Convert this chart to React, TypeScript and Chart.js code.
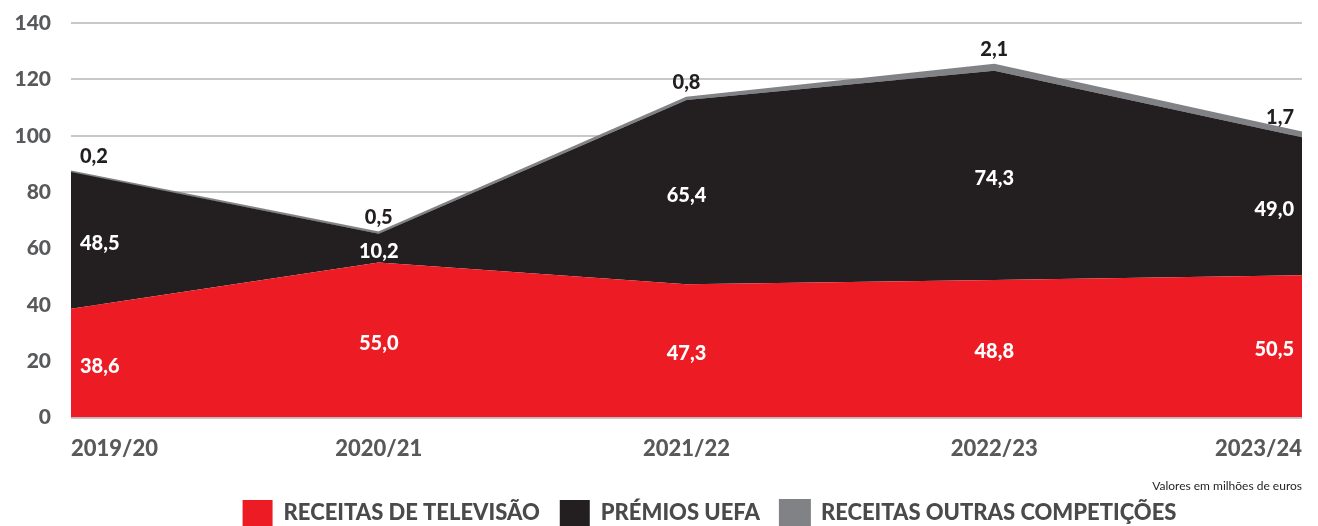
import React, { useEffect, useRef } from "react";
import { Chart, registerables } from "chart.js";

Chart.register(...registerables);

const seasons = ["2019/20", "2020/21", "2021/22", "2022/23", "2023/24"];
const tvRevenue = [38.6, 55.0, 47.3, 48.8, 50.5];
const uefaPrizes = [48.5, 10.2, 65.4, 74.3, 49.0];
const otherCompetitions = [0.2, 0.5, 0.8, 2.1, 1.7];
const seriesNames = ["RECEITAS DE TELEVISÃO", "PRÉMIOS UEFA", "RECEITAS OUTRAS COMPETIÇÕES"];
const yTicks = [0, 20, 40, 60, 80, 100, 120, 140];
const note = "Valores em milhões de euros";

const RED = "#ed1c24";
const BLACK = "#231f20";
const GREY = "#808285";
const TICK = "#58595b";
const FONT = "Lato, 'Open Sans', sans-serif";

const fmt = (v: number) => v.toFixed(1).replace(".", ",");

const valueLabels = {
  id: "valueLabels",
  afterDatasetsDraw(chart: any) {
    const ctx = chart.ctx;
    const yScale = chart.scales.y;
    const n = chart.data.labels.length;
    ctx.save();
    ctx.font = `900 20px ${FONT}`;
    ctx.textBaseline = "middle";
    chart.data.datasets.forEach((ds: any, di: number) => {
      const meta = chart.getDatasetMeta(di);
      const prev = di > 0 ? chart.getDatasetMeta(di - 1) : null;
      meta.data.forEach((pt: any, i: number) => {
        const topY = pt.y;
        const botY = prev ? prev.data[i].y : yScale.getPixelForValue(0);
        let x = pt.x;
        if (i === 0) {
          ctx.textAlign = "left";
          x += 9;
        } else if (i === n - 1) {
          ctx.textAlign = "right";
          x -= 8;
        } else {
          ctx.textAlign = "center";
        }
        let y: number;
        if (di === 2) {
          ctx.fillStyle = BLACK;
          y = topY - 15;
        } else {
          ctx.fillStyle = "#ffffff";
          y = (topY + botY) / 2 + 3;
        }
        ctx.fillText(fmt(ds.data[i]), x, y);
      });
    });
    ctx.restore();
  },
};

const legendShift = {
  id: "legendShift",
  afterLayout(chart: any) {
    if (chart.legend) {
      chart.legend.left += 23;
      chart.legend.right += 23;
    }
  },
};

export default function App() {
  const ref = useRef<HTMLCanvasElement | null>(null);
  useEffect(() => {
    if (!ref.current) return;
    const chart = new Chart(ref.current, {
      type: "line",
      data: {
        labels: seasons,
        datasets: [
          {
            label: seriesNames[0],
            data: tvRevenue,
            backgroundColor: RED,
            borderColor: RED,
            borderWidth: 0,
            fill: "origin",
            pointRadius: 0,
            tension: 0,
          },
          {
            label: seriesNames[1],
            data: uefaPrizes,
            backgroundColor: BLACK,
            borderColor: BLACK,
            borderWidth: 0,
            fill: "-1",
            pointRadius: 0,
            tension: 0,
          },
          {
            label: seriesNames[2],
            data: otherCompetitions,
            backgroundColor: GREY,
            borderColor: GREY,
            borderWidth: 2,
            fill: "-1",
            pointRadius: 0,
            tension: 0,
          },
        ],
      },
      options: {
        responsive: true,
        maintainAspectRatio: false,
        animation: false,
        layout: { padding: { left: 0, right: 16, top: 23, bottom: 0 } },
        scales: {
          x: {
            offset: false,
            grid: { display: false, drawTicks: false },
            border: { display: false },
            afterFit: (s: any) => {
              s.height = 47;
              s.paddingLeft = 0;
              s.paddingRight = 0;
              s.paddingTop = 0;
              s.paddingBottom = 0;
            },
            ticks: {
              align: "inner",
              padding: 18,
              color: TICK,
              font: { family: FONT, size: 22, weight: "900" },
              maxRotation: 0,
              autoSkip: false,
            },
          },
          y: {
            stacked: true,
            min: 0,
            max: 140,
            afterFit: (s: any) => {
              s.width = 71;
              s.paddingTop = 0;
              s.paddingBottom = 0;
              s.paddingLeft = 0;
              s.paddingRight = 0;
            },
            afterBuildTicks: (s: any) => {
              s.ticks = yTicks.map((v) => ({ value: v }));
            },
            border: { display: false },
            grid: { color: "#c7c8ca", lineWidth: 2, drawTicks: false },
            ticks: {
              padding: 20,
              color: TICK,
              font: { family: FONT, size: 21, weight: "900" },
            },
          },
        },
        plugins: {
          tooltip: { enabled: false },
          subtitle: {
            display: true,
            text: note,
            position: "bottom",
            align: "end",
            fullSize: false,
            weight: 500,
            color: BLACK,
            font: { family: FONT, size: 12, weight: "normal" },
            padding: { top: 14, bottom: -13 },
          },
          legend: {
            position: "bottom",
            fullSize: false,
            labels: {
              boxWidth: 30,
              boxHeight: 26,
              padding: 20,
              color: "#4a4a4c",
              font: { family: FONT, size: 22, weight: "900" },
            },
          },
        },
      },
      plugins: [valueLabels, legendShift],
    });
    return () => chart.destroy();
  }, []);

  return (
    <div
      style={{
        position: "fixed",
        left: 0,
        top: 0,
        width: 1318,
        height: 526,
        overflow: "hidden",
        background: "#fff",
      }}
    >
      <div style={{ position: "relative", width: 1318, height: 536 }}>
        <canvas ref={ref} />
      </div>
    </div>
  );
}
